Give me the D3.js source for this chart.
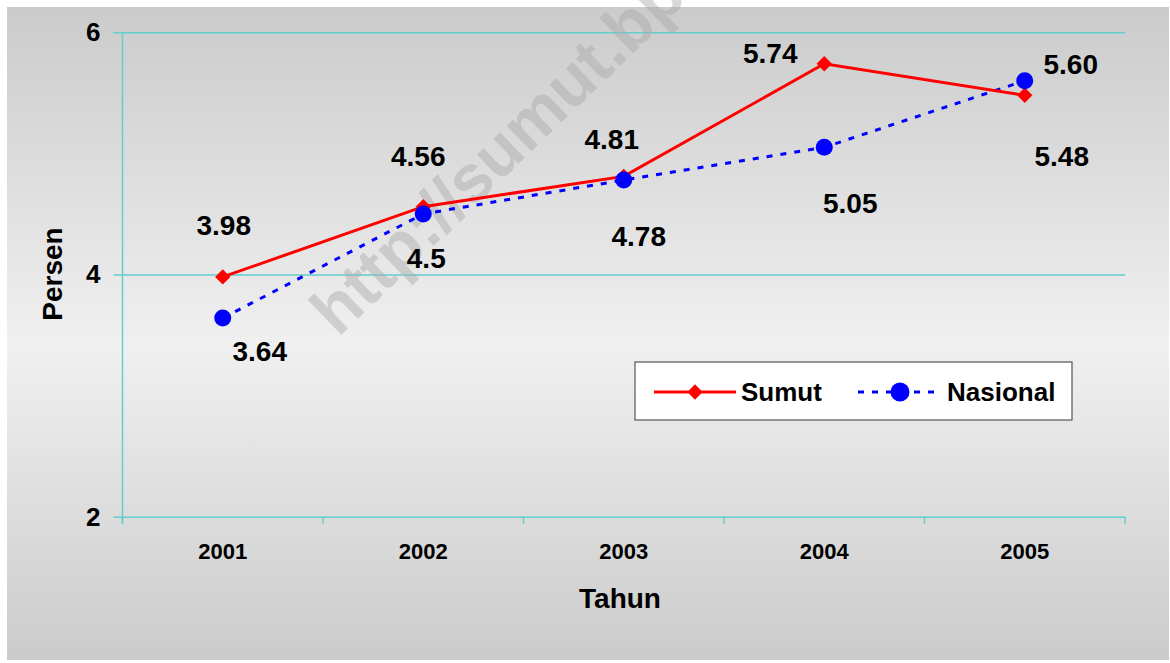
<!DOCTYPE html>
<html lang="id">
<head>
    <meta charset="UTF-8">
    <title>Sumut vs Nasional</title>
    <script src="https://cdnjs.cloudflare.com/ajax/libs/d3/7.8.5/d3.min.js"></script>
    <style>
        body { margin: 0; background: #fff; }
        svg { display: block; font-family: "Liberation Sans", Arial, sans-serif; font-weight: bold; }
    </style>
</head>
<body>
<script type="text/javascript">
    // data
    const years = ["2001", "2002", "2003", "2004", "2005"];
    const sumut = [3.98, 4.56, 4.81, 5.74, 5.48];
    const nasional = [3.64, 4.5, 4.78, 5.05, 5.60];
    const sumutText = ["3.98", "4.56", "4.81", "5.74", "5.48"];
    const nasionalText = ["3.64", "4.5", "4.78", "5.05", "5.60"];
    const yTicks = [2, 4, 6];

    // label placement (px offset from the point), as in the original
    const sumutLabelOffset = [[1, -52], [-5, -50], [-12, -37], [-54, -11], [37, 61]];
    const nasionalLabelOffset = [[37, 33], [3, 44], [15, 56], [26, 56], [46, -17]];

    const W = 1170, H = 663;
    const plot = {left: 122.5, right: 1125, top: 32.3, bottom: 516.7};
    const grid = "#62cfcf";

    const svg = d3.select("body").append("svg")
        .attr("width", W)
        .attr("height", H);

    const defs = svg.append("defs");
    const grad = defs.append("linearGradient")
        .attr("id", "bg").attr("x1", 0).attr("y1", 0).attr("x2", 0).attr("y2", 1);
    grad.append("stop").attr("offset", "0%").attr("stop-color", "#cbcbcb");
    grad.append("stop").attr("offset", "52%").attr("stop-color", "#f0f0f0");
    grad.append("stop").attr("offset", "100%").attr("stop-color", "#cbcbcb");

    svg.append("rect")
        .attr("x", 7).attr("y", 7)
        .attr("width", 1162).attr("height", 653)
        .attr("fill", "url(#bg)");

    const x = d3.scaleBand().domain(years).range([plot.left, plot.right]);
    const y = d3.scaleLinear().domain([2, 6]).range([plot.bottom, plot.top]);

    // gridlines + y ticks
    svg.append("g")
        .attr("transform", `translate(${plot.left},0)`)
        .call(d3.axisLeft(y).tickValues(yTicks).tickSize(9).tickPadding(13).tickFormat(d3.format("d")))
        .call(g => g.select(".domain").remove())
        .call(g => g.selectAll(".tick line").attr("stroke", grid).attr("stroke-width", 1.5)
            .attr("x2", plot.right - plot.left))
        .call(g => g.selectAll(".tick line").clone().attr("x1", -9).attr("x2", 0))
        .call(g => g.selectAll(".tick text")
            .attr("fill", "#000")
            .style("font-size", "26px")
            .style("font-family", "'Liberation Sans', Arial, sans-serif")
            .style("font-weight", "bold"));

    // y axis line
    svg.append("line")
        .attr("x1", plot.left).attr("x2", plot.left)
        .attr("y1", plot.top).attr("y2", plot.bottom + 7)
        .attr("stroke", grid).attr("stroke-width", 1.5);

    // x axis: labels centred, ticks on the category boundaries
    svg.append("g")
        .attr("transform", `translate(0,${plot.bottom})`)
        .call(d3.axisBottom(x).tickSize(0).tickPadding(27))
        .call(g => g.select(".domain").remove())
        .call(g => g.selectAll(".tick text")
            .attr("fill", "#000")
            .style("font-size", "22px")
            .style("font-family", "'Liberation Sans', Arial, sans-serif")
            .style("font-weight", "bold"));

    const bounds = years.map(d => x(d)).concat([x.range()[1]]);
    svg.append("g").selectAll("line")
        .data(bounds)
        .join("line")
        .attr("x1", d => d).attr("x2", d => d)
        .attr("y1", plot.bottom).attr("y2", plot.bottom + 7)
        .attr("stroke", grid).attr("stroke-width", 1.5);

    // watermark (runs off the top edge in the original too)
    svg.append("text")
        .attr("transform", "translate(338,338) rotate(-44)")
        .attr("fill", "#a8a8a8")
        .attr("fill-opacity", 0.45)
        .style("font-size", "67px")
        .text("http://sumut.bps.go.id");

    // axis titles
    svg.append("text")
        .attr("x", 620).attr("y", 598).attr("dy", "0.35em")
        .attr("text-anchor", "middle")
        .style("font-size", "28px")
        .text("Tahun");

    svg.append("text")
        .attr("transform", "translate(52,274) rotate(-90)")
        .attr("dy", "0.35em")
        .attr("text-anchor", "middle")
        .style("font-size", "28px")
        .text("Persen");

    const cx = (d, i) => x(years[i]) + x.bandwidth() / 2;
    const diamond = d3.symbol().type(d3.symbolDiamond2).size(150);

    // Nasional (dashed blue, circles)
    const line = d3.line().x((d, i) => cx(d, i)).y(d => y(d));
    svg.append("path")
        .datum(nasional)
        .attr("d", line)
        .attr("fill", "none")
        .attr("stroke", "#0000ff")
        .attr("stroke-width", 3)
        .attr("stroke-dasharray", "6,8");

    // Sumut (solid red, diamonds)
    svg.append("path")
        .datum(sumut)
        .attr("d", line)
        .attr("fill", "none")
        .attr("stroke", "#ff0000")
        .attr("stroke-width", 3);

    svg.append("g").selectAll("path")
        .data(sumut)
        .join("path")
        .attr("transform", (d, i) => `translate(${cx(d, i)},${y(d)})`)
        .attr("d", diamond)
        .attr("fill", "#ff0000");

    svg.append("g").selectAll("circle")
        .data(nasional)
        .join("circle")
        .attr("cx", cx)
        .attr("cy", d => y(d))
        .attr("r", 8.5)
        .attr("fill", "#0000ff");

    // value labels
    const labels = (vals, txt, off) => svg.append("g")
        .attr("text-anchor", "middle")
        .style("font-size", "28px")
        .selectAll("text")
        .data(vals)
        .join("text")
        .attr("x", (d, i) => cx(d, i) + off[i][0])
        .attr("y", (d, i) => y(d) + off[i][1])
        .attr("dy", "0.35em")
        .text((d, i) => txt[i]);
    labels(sumut, sumutText, sumutLabelOffset);
    labels(nasional, nasionalText, nasionalLabelOffset);

    // legend
    const lg = svg.append("g").attr("transform", "translate(635,362)");
    lg.append("rect")
        .attr("width", 437).attr("height", 58)
        .attr("fill", "#fff")
        .attr("stroke", "#555").attr("stroke-width", 1.2);
    lg.append("line")
        .attr("x1", 19).attr("x2", 101).attr("y1", 30).attr("y2", 30)
        .attr("stroke", "#ff0000").attr("stroke-width", 3);
    lg.append("path")
        .attr("transform", "translate(60,30)")
        .attr("d", diamond)
        .attr("fill", "#ff0000");
    lg.append("text")
        .attr("x", 106).attr("y", 30).attr("dy", "0.35em")
        .style("font-size", "26px")
        .text("Sumut");
    lg.append("line")
        .attr("x1", 223).attr("x2", 306).attr("y1", 30).attr("y2", 30)
        .attr("stroke", "#0000ff").attr("stroke-width", 3)
        .attr("stroke-dasharray", "6,8");
    lg.append("circle")
        .attr("cx", 265).attr("cy", 30).attr("r", 9.5)
        .attr("fill", "#0000ff");
    lg.append("text")
        .attr("x", 312).attr("y", 30).attr("dy", "0.35em")
        .style("font-size", "26px")
        .text("Nasional");
</script>
</body>
</html>
